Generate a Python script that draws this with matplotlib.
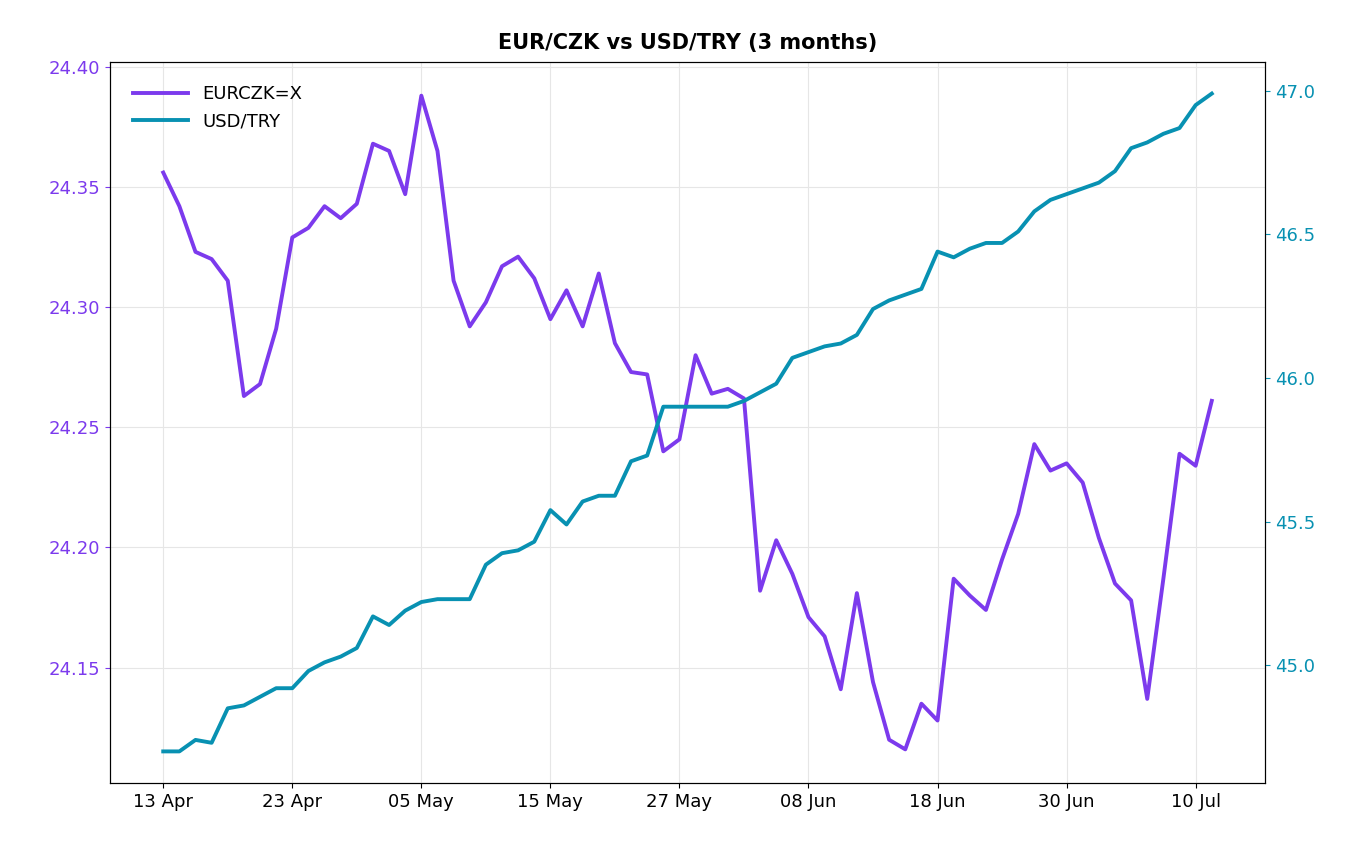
import matplotlib
matplotlib.use("Agg")
import matplotlib.pyplot as plt

tick_labels = ["13 Apr", "23 Apr", "05 May", "15 May", "27 May", "08 Jun", "18 Jun", "30 Jun", "10 Jul"]
tick_step = 8

eurczk = [24.356, 24.342, 24.323, 24.320, 24.311, 24.263, 24.268, 24.291, 24.329, 24.333,
          24.342, 24.337, 24.343, 24.368, 24.365, 24.347, 24.388, 24.365, 24.311, 24.292,
          24.302, 24.317, 24.321, 24.312, 24.295, 24.307, 24.292, 24.314, 24.285, 24.273,
          24.272, 24.240, 24.245, 24.280, 24.264, 24.266, 24.262, 24.182, 24.203, 24.189,
          24.171, 24.163, 24.141, 24.181, 24.144, 24.120, 24.116, 24.135, 24.128, 24.187,
          24.180, 24.174, 24.195, 24.214, 24.243, 24.232, 24.235, 24.227, 24.204, 24.185,
          24.178, 24.137, 24.187, 24.239, 24.234, 24.261]
usdtry = [44.70, 44.70, 44.74, 44.73, 44.85, 44.86, 44.89, 44.92, 44.92, 44.98,
          45.01, 45.03, 45.06, 45.17, 45.14, 45.19, 45.22, 45.23, 45.23, 45.23,
          45.35, 45.39, 45.40, 45.43, 45.54, 45.49, 45.57, 45.59, 45.59, 45.71,
          45.73, 45.90, 45.90, 45.90, 45.90, 45.90, 45.92, 45.95, 45.98, 46.07,
          46.09, 46.11, 46.12, 46.15, 46.24, 46.27, 46.29, 46.31, 46.44, 46.42,
          46.45, 46.47, 46.47, 46.51, 46.58, 46.62, 46.64, 46.66, 46.68, 46.72,
          46.80, 46.82, 46.85, 46.87, 46.95, 46.99]

purple = "#7c3aed"
teal = "#0891b2"
x = list(range(len(eurczk)))

fig = plt.figure(figsize=(13.6, 8.5), dpi=100)
ax = fig.add_axes([110/1360, 1-783/850, (1265-110)/1360, (783-62)/850])
ax2 = ax.twinx()
l1, = ax.plot(x, eurczk, color=purple, lw=2.8, label="EURCZK=X")
l2, = ax2.plot(x, usdtry, color=teal, lw=2.8, label="USD/TRY")
ax.set_xlim(-3.3, 68.3)
ax.set_ylim(24.102, 24.402)
ax2.set_ylim(44.59, 47.10)
ax.set_xticks([i*tick_step for i in range(len(tick_labels))])
ax.set_xticklabels(tick_labels, fontsize=13)
ax.set_yticks([24.15, 24.20, 24.25, 24.30, 24.35, 24.40])
ax.set_yticklabels([f"{v:.2f}" for v in [24.15, 24.20, 24.25, 24.30, 24.35, 24.40]])
ax.tick_params(axis="y", colors=purple, labelsize=13)
ax2.set_yticks([45.0, 45.5, 46.0, 46.5, 47.0])
ax2.tick_params(axis="y", colors=teal, labelsize=13)
ax.grid(True, color="#e6e6e6", lw=0.8)
ax.set_title("EUR/CZK vs USD/TRY (3 months)", fontsize=15, fontweight="bold", pad=9)
ax.legend([l1, l2], ["EURCZK=X", "USD/TRY"], loc="upper left", frameon=False, fontsize=13,
          handlelength=3.0, borderaxespad=0.9)
fig.savefig("out.png", dpi=100)
